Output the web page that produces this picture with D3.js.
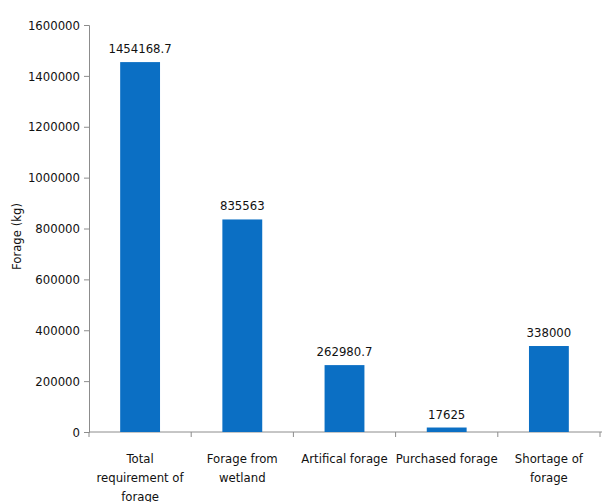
<!DOCTYPE html>
<html>
<head>
<meta charset="utf-8">
<script src="https://cdn.jsdelivr.net/npm/d3@7"></script>
<style>
  html, body { margin: 0; padding: 0; background: #fff; }
  svg text { font-family: "Liberation Sans Narrow", "DejaVu Sans Condensed", "Open Sans", sans-serif; fill: #111; }
</style>
</head>
<body>
<svg id="chart" width="609" height="502"></svg>
<script>
// Forage balance by source (kg)
const categories = [
  ["Total", "requirement of", "forage"],
  ["Forage from", "wetland"],
  ["Artifical forage"],
  ["Purchased forage"],
  ["Shortage of", "forage"]
];
const values = [1454168.7, 835563, 262980.7, 17625, 338000];
const valueLabels = ["1454168.7", "835563", "262980.7", "17625", "338000"];
const yTicks = [0, 200000, 400000, 600000, 800000, 1000000, 1200000, 1400000, 1600000];

const svg = d3.select("#chart");
const margin = { left: 89, right: 9, top: 25, bottom: 70 };
const W = 609, H = 502;

const x = d3.scaleBand()
  .domain(d3.range(values.length))
  .range([margin.left, W - margin.right])
  .paddingInner(0.61)
  .paddingOuter(0.305);

const xOuter = d3.scaleBand()
  .domain(d3.range(values.length))
  .range([margin.left, W - margin.right]);

const y = d3.scaleLinear()
  .domain([0, 1600000])
  .range([H - margin.bottom, margin.top]);

const axisColor = "#8c8c8c";
const fontSize = 13;

// y axis
const yAxis = svg.append("g")
  .attr("transform", `translate(${margin.left},0)`)
  .call(d3.axisLeft(y).tickValues(yTicks).tickFormat(d3.format("d")).tickSize(5).tickPadding(4));
yAxis.select(".domain").attr("stroke", axisColor);
yAxis.selectAll(".tick line").attr("stroke", axisColor);
yAxis.selectAll(".tick text").attr("font-size", fontSize)
  .style("font-family", "'Liberation Sans Narrow', 'DejaVu Sans Condensed', sans-serif")
  .attr("fill", "#111");

// x axis baseline with ticks at category boundaries
const xAxisG = svg.append("g");
xAxisG.append("line")
  .attr("x1", margin.left).attr("x2", W - margin.right + 2)
  .attr("y1", y(0)).attr("y2", y(0))
  .attr("stroke", axisColor);
const boundaries = d3.range(values.length + 1).map(i =>
  i < values.length ? xOuter(i) : xOuter(values.length - 1) + xOuter.bandwidth());
xAxisG.selectAll("line.tk").data(boundaries).join("line")
  .attr("class", "tk")
  .attr("x1", d => d).attr("x2", d => d)
  .attr("y1", y(0)).attr("y2", y(0) + 5)
  .attr("stroke", axisColor);

// bars
svg.append("g").selectAll("rect").data(values).join("rect")
  .attr("x", (d, i) => x(i))
  .attr("width", x.bandwidth())
  .attr("y", d => y(d))
  .attr("height", d => y(0) - y(d))
  .attr("fill", "#0b6fc4");

// value labels
svg.append("g").selectAll("text").data(values).join("text")
  .attr("x", (d, i) => x(i) + x.bandwidth() / 2)
  .attr("y", d => y(d) - 9)
  .attr("text-anchor", "middle")
  .attr("font-size", fontSize)
  .text((d, i) => valueLabels[i]);

// category labels
const catG = svg.append("g").selectAll("text").data(categories).join("text")
  .attr("x", (d, i) => xOuter(i) + xOuter.bandwidth() / 2)
  .attr("y", y(0) + 31)
  .attr("text-anchor", "middle")
  .attr("font-size", fontSize);
catG.selectAll("tspan").data(d => d).join("tspan")
  .attr("x", function () { return d3.select(this.parentNode).attr("x"); })
  .attr("dy", (d, i) => i === 0 ? 0 : 19)
  .text(d => d);

// y axis title
svg.append("text")
  .attr("transform", `translate(21,${(y(0) + y(1600000)) / 2 + 8}) rotate(-90)`)
  .attr("text-anchor", "middle")
  .attr("font-size", fontSize)
  .text("Forage (kg)");
</script>
</body>
</html>
